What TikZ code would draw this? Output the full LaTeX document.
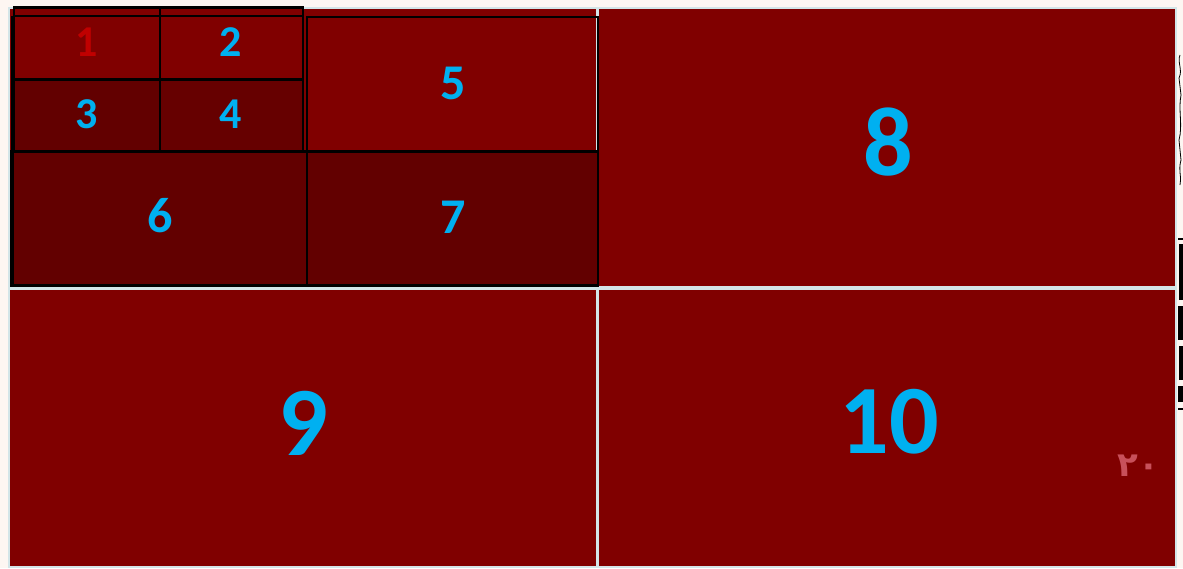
\documentclass[tikz,border=0pt]{standalone}
\usepackage{fontspec}
\setmainfont{Carlito}
\newfontfamily\arabicfont[Script=Arabic]{DejaVu Sans}
\definecolor{bgcream}{HTML}{FDF6F2}
\definecolor{gapblue}{HTML}{D3E5E8}
\definecolor{cellred}{HTML}{800000}
\definecolor{celldark}{HTML}{620000}
\definecolor{celldarkb}{HTML}{660000}
\definecolor{numblue}{HTML}{00B0F0}
\definecolor{numred}{HTML}{C00000}
\definecolor{pinknum}{HTML}{C8505A}
\tikzset{
  lbl/.style={inner sep=0pt, font=\bfseries, text=numblue},
  small/.style={lbl, font=\fontsize{44}{44}\selectfont\bfseries},
  mid/.style={lbl, font=\fontsize{50}{50}\selectfont\bfseries},
  big/.style={lbl, font=\fontsize{98}{98}\selectfont\bfseries},
  grid/.style={draw=black, line width=2.5pt},
  thick grid/.style={draw=black, line width=3.5pt},
}
\begin{document}
\begin{tikzpicture}[x=1pt,y=-1pt]
\useasboundingbox (0,0) rectangle (1183,568);
\fill[bgcream] (0,0) rectangle (1183,568);
\fill[gapblue] (8,7) rectangle (1177,568);
% main cells
\fill[cellred] (10,9) rectangle (596,286);
\fill[cellred] (599,9) rectangle (1175,286);
\fill[cellred] (10,290) rectangle (596,566);
\fill[cellred] (599,290) rectangle (1175,566);
% sub cells
\fill[celldark] (14,80) rectangle (160,152);
\fill[celldarkb] (160,80) rectangle (303,152);
\fill[celldark] (11,152) rectangle (307,285);
\fill[celldark] (307,152) rectangle (598,285);
% grid lines
\path[grid] (14,7.5) rectangle (303,152);
\path[grid] (14,16) -- (303,16);
\path[grid] (160,7.5) -- (160,152);
\path[draw=black, line width=3pt] (14,79.5) -- (303,79.5);
\path[grid] (307,17) rectangle (598,152);
\path[grid] (11.5,152) rectangle (598,285.5);
\path[grid] (307,152) -- (307,285.5);
\path[thick grid] (10,151.5) -- (598,151.5);
\path[draw=black, line width=3pt] (12,16) -- (12,286);
% labels
\node[small, text=numred] (n1) at (87,42) {1};
\node[small] (n2) at (231,42) {2};
\node[small] (n3) at (87,114) {3};
\node[small] (n4) at (231,114) {4};
\node[mid] (n5) at (453,83) {5};
\node[mid] (n6) at (160,216) {6};
\node[mid] (n7) at (453,217) {7};
\node[big] (n8) at (888,142) {8};
\node[big] (n9) at (303,423) {9};
\node[big] (n10) at (889,422) {10};
\node[inner sep=0pt, text=pinknum, font=\arabicfont\fontsize{34}{34}\selectfont\bfseries] (n20) at (1138,466) {۲۰};
% cropped marks at the right edge
\draw[black, line width=0.8pt] (1180,55) .. controls (1177,62) and (1183,70) .. (1179,78)
  -- (1181,95) .. controls (1178,110) and (1183,125) .. (1179,140)
  -- (1181,160) .. controls (1178,170) and (1182,178) .. (1180,185);
\fill[black] (1178,238) rectangle (1183,240);
\fill[black] (1179,244) rectangle (1183,300);
\fill[black] (1178,306) rectangle (1183,340);
\fill[black] (1179,346) rectangle (1183,380);
\fill[black] (1178,386) rectangle (1183,402);
\fill[black] (1178,408) rectangle (1183,410);
\end{tikzpicture}
\end{document}
